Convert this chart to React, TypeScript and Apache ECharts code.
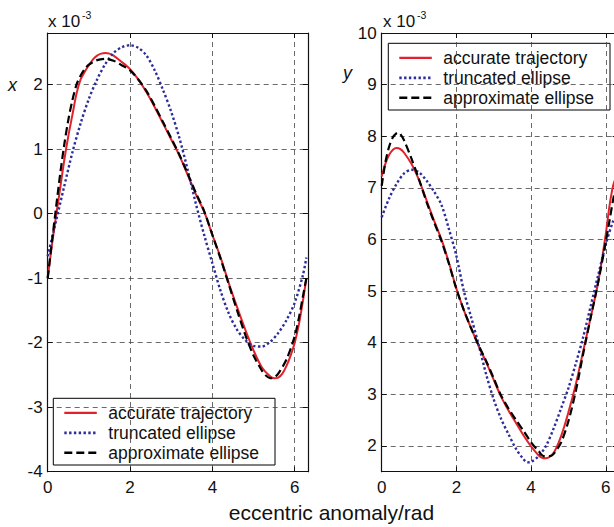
import React, { useEffect, useRef } from 'react';
import * as echarts from 'echarts';

const FONT = '"Liberation Sans", Arial, Helvetica, sans-serif';

// ---------- left panel: x (×10^-3) vs eccentric anomaly ----------
const xAccE = [0, 0.1, 0.2, 0.3, 0.4, 0.5, 0.6, 0.7, 0.8, 0.9, 1.0, 1.1, 1.2, 1.3, 1.4, 1.5, 1.6, 1.8, 2.0, 2.2, 2.4, 2.6, 2.8, 3.0, 3.2, 3.4, 3.6, 3.8, 4.0, 4.2, 4.4, 4.6, 4.8, 5.0, 5.2, 5.4, 5.5, 5.6, 5.7, 5.8, 5.9, 6.0, 6.1, 6.2, 6.283];
const xAccV = [-1.0, -0.5, -0.05, 0.38, 0.82, 1.2, 1.53, 1.86, 2.08, 2.2, 2.3, 2.39, 2.45, 2.48, 2.49, 2.48, 2.45, 2.35, 2.24, 2.08, 1.88, 1.65, 1.4, 1.15, 0.9, 0.6, 0.3, 0.03, -0.33, -0.68, -1.08, -1.45, -1.8, -2.12, -2.38, -2.52, -2.55, -2.54, -2.48, -2.36, -2.2, -2.0, -1.72, -1.35, -1.0];

const xTrnE = [0, 0.2, 0.4, 0.6, 0.8, 1.0, 1.2, 1.4, 1.6, 1.8, 2.0, 2.2, 2.4, 2.6, 2.8, 3.0, 3.2, 3.4, 3.6, 3.8, 4.0, 4.2, 4.4, 4.6, 4.8, 5.0, 5.2, 5.4, 5.6, 5.8, 6.0, 6.2, 6.283];
const xTrnV = [-0.66, -0.12, 0.42, 0.95, 1.4, 1.78, 2.08, 2.32, 2.49, 2.58, 2.61, 2.57, 2.45, 2.22, 1.92, 1.58, 1.17, 0.68, 0.15, -0.33, -0.77, -1.2, -1.55, -1.8, -1.96, -2.05, -2.06, -1.99, -1.85, -1.65, -1.38, -0.95, -0.68];

const xAppE = [0, 0.1, 0.2, 0.3, 0.4, 0.5, 0.6, 0.7, 0.8, 0.9, 1.0, 1.2, 1.4, 1.6, 1.8, 2.0, 2.2, 2.4, 2.6, 2.8, 3.0, 3.2, 3.4, 3.6, 3.8, 4.0, 4.2, 4.4, 4.6, 4.8, 5.0, 5.2, 5.3, 5.4, 5.5, 5.6, 5.8, 6.0, 6.1, 6.2, 6.283];
const xAppV = [-1.0, -0.45, 0.08, 0.6, 1.06, 1.45, 1.76, 2.0, 2.14, 2.24, 2.31, 2.38, 2.4, 2.37, 2.3, 2.22, 2.08, 1.9, 1.67, 1.42, 1.17, 0.91, 0.62, 0.32, 0.04, -0.33, -0.7, -1.1, -1.5, -1.88, -2.2, -2.43, -2.51, -2.55, -2.54, -2.48, -2.26, -1.9, -1.62, -1.28, -1.0];

// ---------- right panel: y (×10^-3) vs eccentric anomaly ----------
const yAccE = [0, 0.1, 0.2, 0.3, 0.4, 0.5, 0.6, 0.8, 1.0, 1.2, 1.4, 1.6, 1.8, 2.0, 2.2, 2.4, 2.6, 2.8, 3.0, 3.2, 3.4, 3.6, 3.8, 4.0, 4.2, 4.3, 4.4, 4.6, 4.8, 5.0, 5.2, 5.4, 5.6, 5.8, 6.0, 6.1, 6.2, 6.283];
const yAccV = [7.22, 7.47, 7.64, 7.74, 7.77, 7.75, 7.68, 7.46, 7.15, 6.76, 6.37, 6.0, 5.55, 5.05, 4.63, 4.27, 3.93, 3.62, 3.28, 2.95, 2.68, 2.44, 2.2, 1.99, 1.82, 1.77, 1.76, 1.86, 2.18, 2.65, 3.2, 3.85, 4.5, 5.18, 6.1, 6.65, 7.05, 7.22];

const yTrnE = [0, 0.2, 0.4, 0.6, 0.8, 1.0, 1.2, 1.4, 1.6, 1.8, 2.0, 2.2, 2.4, 2.6, 2.8, 3.0, 3.2, 3.4, 3.6, 3.8, 3.9, 4.0, 4.2, 4.4, 4.6, 4.8, 5.0, 5.2, 5.4, 5.6, 5.8, 6.0, 6.2, 6.283];
const yTrnV = [6.43, 6.8, 7.08, 7.28, 7.35, 7.3, 7.14, 6.93, 6.67, 6.2, 5.68, 5.0, 4.48, 3.95, 3.38, 2.9, 2.52, 2.22, 1.94, 1.74, 1.68, 1.69, 1.8, 2.0, 2.33, 2.72, 3.12, 3.6, 4.12, 4.72, 5.32, 5.9, 6.36, 6.43];

const yAppE = [0, 0.1, 0.2, 0.3, 0.4, 0.45, 0.5, 0.6, 0.8, 1.0, 1.2, 1.4, 1.6, 1.8, 2.0, 2.2, 2.4, 2.6, 2.8, 3.0, 3.2, 3.4, 3.6, 3.8, 4.0, 4.2, 4.35, 4.5, 4.6, 4.8, 5.0, 5.2, 5.4, 5.6, 5.8, 6.0, 6.1, 6.2, 6.283];
const yAppV = [7.04, 7.5, 7.8, 7.98, 8.06, 8.07, 8.04, 7.92, 7.56, 7.16, 6.73, 6.34, 5.97, 5.53, 5.04, 4.63, 4.27, 3.94, 3.64, 3.31, 2.97, 2.72, 2.5, 2.29, 2.07, 1.9, 1.8, 1.8, 1.84, 2.06, 2.48, 3.07, 3.8, 4.5, 5.18, 5.95, 6.36, 6.78, 7.04];

const legendNames = ['accurate trajectory', 'truncated ellipse', 'approximate ellipse'];
const xAxisTitle = 'eccentric anomaly/rad';
const scaleLabel = 'x 10';
const scaleExp = '-3';

const RED = '#e3212a';
const BLUE = '#2c2c9c';
const BLACK = '#000000';
const STYLES = [
  { color: RED, width: 2, type: 'solid' as any },
  { color: BLUE, width: 2.4, type: [2.4, 2.4] as any },
  { color: BLACK, width: 2.2, type: [8, 4] as any },
];

const pairs = (e: number[], v: number[]) => e.map((x, i) => [x, v[i]]);
const intFmt = (v: number) => (Math.abs(v - Math.round(v)) < 1e-9 ? String(Math.round(v)) : '');

function buildOption() {
  const gridLine = { show: true, lineStyle: { type: [5, 4], color: '#444', width: 0.8 } };
  const label = { fontSize: 17, color: '#111', fontFamily: FONT, formatter: intFmt };
  const axLine = { show: true, onZero: false, lineStyle: { color: '#111', width: 1.2 } };
  const tick = { show: true, inside: true, length: 5, lineStyle: { color: '#111', width: 1 } };

  const X_MAX = 6.32;
  const xAxes: any[] = [];
  const yAxes: any[] = [];
  [0, 1].forEach((g) => {
    xAxes.push({ gridIndex: g, type: 'value', min: 0, max: X_MAX, interval: 2, position: 'bottom', axisLine: axLine, axisTick: tick, axisLabel: { ...label, margin: 7 }, splitLine: gridLine });
    xAxes.push({ gridIndex: g, type: 'value', min: 0, max: X_MAX, interval: 2, position: 'top', axisLine: axLine, axisTick: tick, axisLabel: { show: false }, splitLine: { show: false } });
  });
  const yLeft = { min: -4, max: 2.8, interval: 1 };
  const yRight = { min: 1.5, max: 10, minInterval: 1, maxInterval: 1, splitNumber: 8 };
  [yLeft, yRight].forEach((cfg, g) => {
    yAxes.push({ gridIndex: g, type: 'value', ...cfg, position: 'left', axisLine: axLine, axisTick: tick, axisLabel: { ...label, margin: 5 }, splitLine: gridLine });
    yAxes.push({ gridIndex: g, type: 'value', ...cfg, position: 'right', axisLine: axLine, axisTick: tick, axisLabel: { show: false }, splitLine: { show: false } });
  });

  const mk = (name: string, data: number[][], s: any, g: number) => ({
    name,
    type: 'line',
    xAxisIndex: g * 2,
    yAxisIndex: g * 2,
    data,
    showSymbol: false,
    symbol: 'none',
    smooth: 0.3,
    lineStyle: { color: s.color, width: s.width, type: s.type },
    z: 3,
  });

  const series = [
    mk(legendNames[0], pairs(xAccE, xAccV), STYLES[0], 0),
    mk(legendNames[1], pairs(xTrnE, xTrnV), STYLES[1], 0),
    mk(legendNames[2], pairs(xAppE, xAppV), STYLES[2], 0),
    mk(legendNames[0], pairs(yAccE, yAccV), STYLES[0], 1),
    mk(legendNames[1], pairs(yTrnE, yTrnV), STYLES[1], 1),
    mk(legendNames[2], pairs(yAppE, yAppV), STYLES[2], 1),
  ];

  const legendBox = (bx: number, by: number, bw: number, bh: number) => {
    const children: any[] = [
      { type: 'rect', shape: { x: bx, y: by, width: bw, height: bh }, style: { fill: '#fff', stroke: '#000', lineWidth: 1 } },
    ];
    legendNames.forEach((n, i) => {
      const cy = by + 14.5 + i * 20;
      const s = STYLES[i];
      children.push({ type: 'line', shape: { x1: bx + 11, y1: cy, x2: bx + 43.5, y2: cy }, style: { stroke: s.color, lineWidth: s.width + 0.3, lineDash: s.type === 'solid' ? null : s.type } });
      children.push({ type: 'text', style: { text: n, x: bx + 55, y: cy, fill: '#111', font: `17.5px ${FONT}`, verticalAlign: 'middle', align: 'left' } });
    });
    return { type: 'group', z: 100, children };
  };

  const scaleText = (x: number) => ({
    type: 'group',
    z: 100,
    children: [
      { type: 'text', style: { text: scaleLabel, x, y: 21, fill: '#111', font: `17px ${FONT}`, verticalAlign: 'middle', align: 'left' } },
      { type: 'text', style: { text: scaleExp, x: x + 34, y: 14.5, fill: '#111', font: `10.5px ${FONT}`, verticalAlign: 'middle', align: 'left' } },
    ],
  });

  return {
    animation: false,
    backgroundColor: '#fff',
    grid: [
      { left: 47.7, top: 33, width: 260.2, height: 438.7, outerBoundsMode: 'none', containLabel: false },
      { left: 381.7, top: 33, width: 236, height: 438.7, outerBoundsMode: 'none', containLabel: false },
    ],
    xAxis: xAxes,
    yAxis: yAxes,
    series,
    graphic: [
      legendBox(53.3, 398.3, 221.7, 66.7),
      legendBox(388.3, 43.3, 221.7, 66.7),
      scaleText(48),
      scaleText(383),
      { type: 'text', z: 100, style: { text: 'x', x: 12.5, y: 84.5, fill: '#111', font: `italic 18px ${FONT}`, verticalAlign: 'middle', align: 'center' } },
      { type: 'text', z: 100, style: { text: 'y', x: 347.5, y: 73, fill: '#111', font: `italic 18px ${FONT}`, verticalAlign: 'middle', align: 'center' } },
      { type: 'text', z: 100, style: { text: xAxisTitle, x: 331.5, y: 512.5, fill: '#111', font: `21px ${FONT}`, verticalAlign: 'middle', align: 'center' } },
    ],
  };
}

export default function App() {
  const ref = useRef<HTMLDivElement>(null);
  useEffect(() => {
    if (!ref.current) return;
    const chart = echarts.init(ref.current, null, { renderer: 'svg' });
    chart.setOption(buildOption() as any);
    return () => chart.dispose();
  }, []);
  return (
    <div
      ref={ref}
      style={{ position: 'absolute', left: 0, top: 0, width: 614, height: 527, background: '#fff' }}
    />
  );
}
